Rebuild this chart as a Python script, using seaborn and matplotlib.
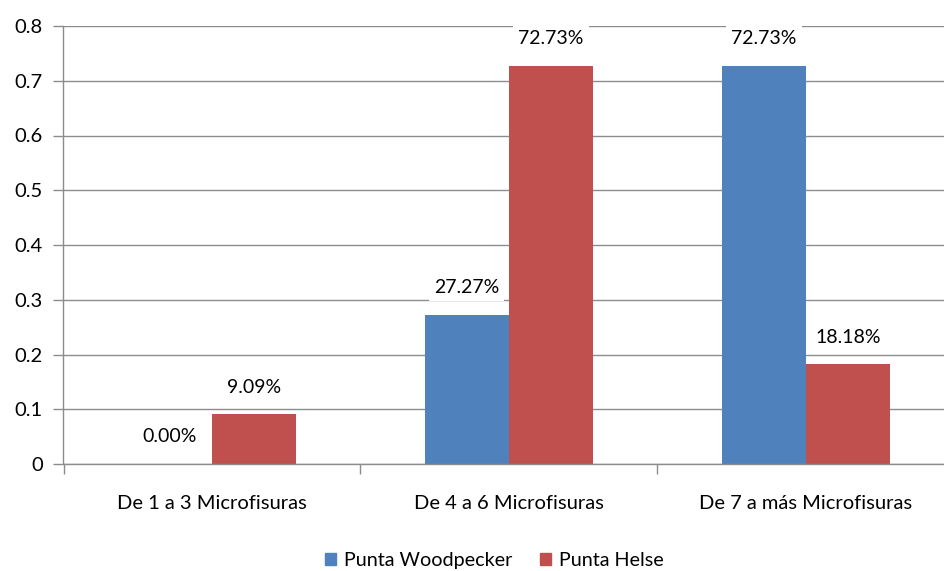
import matplotlib
matplotlib.use("Agg")
import matplotlib.pyplot as plt
import seaborn as sns
import pandas as pd
from matplotlib.ticker import FuncFormatter, FixedLocator

categories = ["De 1 a 3 Microfisuras", "De 4 a 6 Microfisuras", "De 7 a más Microfisuras"]
series_names = ["Punta Woodpecker", "Punta Helse"]
woodpecker = [0.0, 0.2727, 0.7273]
helse = [0.0909, 0.7273, 0.1818]
value_labels = {
    "Punta Woodpecker": ["0.00%", "27.27%", "72.73%"],
    "Punta Helse": ["9.09%", "72.73%", "18.18%"],
}
colors = ["#4F81BD", "#C0504D"]
y_ticks = [0, 0.1, 0.2, 0.3, 0.4, 0.5, 0.6, 0.7, 0.8]

df = pd.DataFrame({
    "categoria": categories * 2,
    "serie": [series_names[0]] * 3 + [series_names[1]] * 3,
    "valor": woodpecker + helse,
})

sns.set_theme(style="white")
plt.rcParams["font.family"] = ["Lato", "DejaVu Sans"]
plt.rcParams["text.color"] = "#000000"

fig = plt.figure(figsize=(9.45, 5.71), dpi=100)
ax = fig.add_axes([63.5 / 945, 1 - 464 / 571, (954.5 - 63.5) / 945, (464 - 26) / 571])

sns.barplot(data=df, x="categoria", y="valor", hue="serie", order=categories,
            hue_order=series_names, palette=colors, width=0.566, gap=0,
            saturation=1, ax=ax, legend=False, linewidth=0)

ax.set_xlim(-0.5, 2.5)
ax.set_ylim(0, 0.8)
ax.set_xlabel("")
ax.set_ylabel("")

grid_color = "#8C8C8C"
ax.yaxis.set_major_locator(FixedLocator(y_ticks))
ax.yaxis.set_major_formatter(FuncFormatter(lambda v, p: "0" if abs(v) < 1e-9 else f"{v:.1f}"))
ax.grid(axis="y", color=grid_color, linewidth=1)
ax.set_axisbelow(True)
for side in ["top", "right"]:
    ax.spines[side].set_visible(False)
for side in ["left", "bottom"]:
    ax.spines[side].set_color(grid_color)
    ax.spines[side].set_linewidth(1)

ax.tick_params(axis="y", which="major", left=True, length=7, width=1, color=grid_color,
               labelsize=14.5, labelcolor="#000000", pad=8)
ax.tick_params(axis="x", which="major", bottom=False, labelsize=14.5, labelcolor="#000000", pad=16)
ax.xaxis.set_minor_locator(FixedLocator([-0.5, 0.5, 1.5, 2.5]))
ax.tick_params(axis="x", which="minor", bottom=True, length=7, width=1, color=grid_color)

for name, container in zip(series_names, ax.containers):
    vals = woodpecker if name == series_names[0] else helse
    for bar, v, lab in zip(container, vals, value_labels[name]):
        cx = bar.get_x() + bar.get_width() / 2
        ax.annotate(lab, (cx, v), xytext=(0, 19.5), textcoords="offset points",
                    ha="center", va="center", fontsize=14, color="#000000",
                    bbox=dict(boxstyle="square,pad=0.25", fc="white", ec="none"))

handles = [plt.Rectangle((0, 0), 1, 1, color=c) for c in colors]
fig.legend(handles, series_names, loc="center", bbox_to_anchor=(0.523, 0.018), ncol=2,
           frameon=False, fontsize=14.2, handlelength=0.55, handleheight=0.55,
           handletextpad=0.4, columnspacing=1.4, labelcolor="#000000")

fig.savefig("out.png", dpi=100)
